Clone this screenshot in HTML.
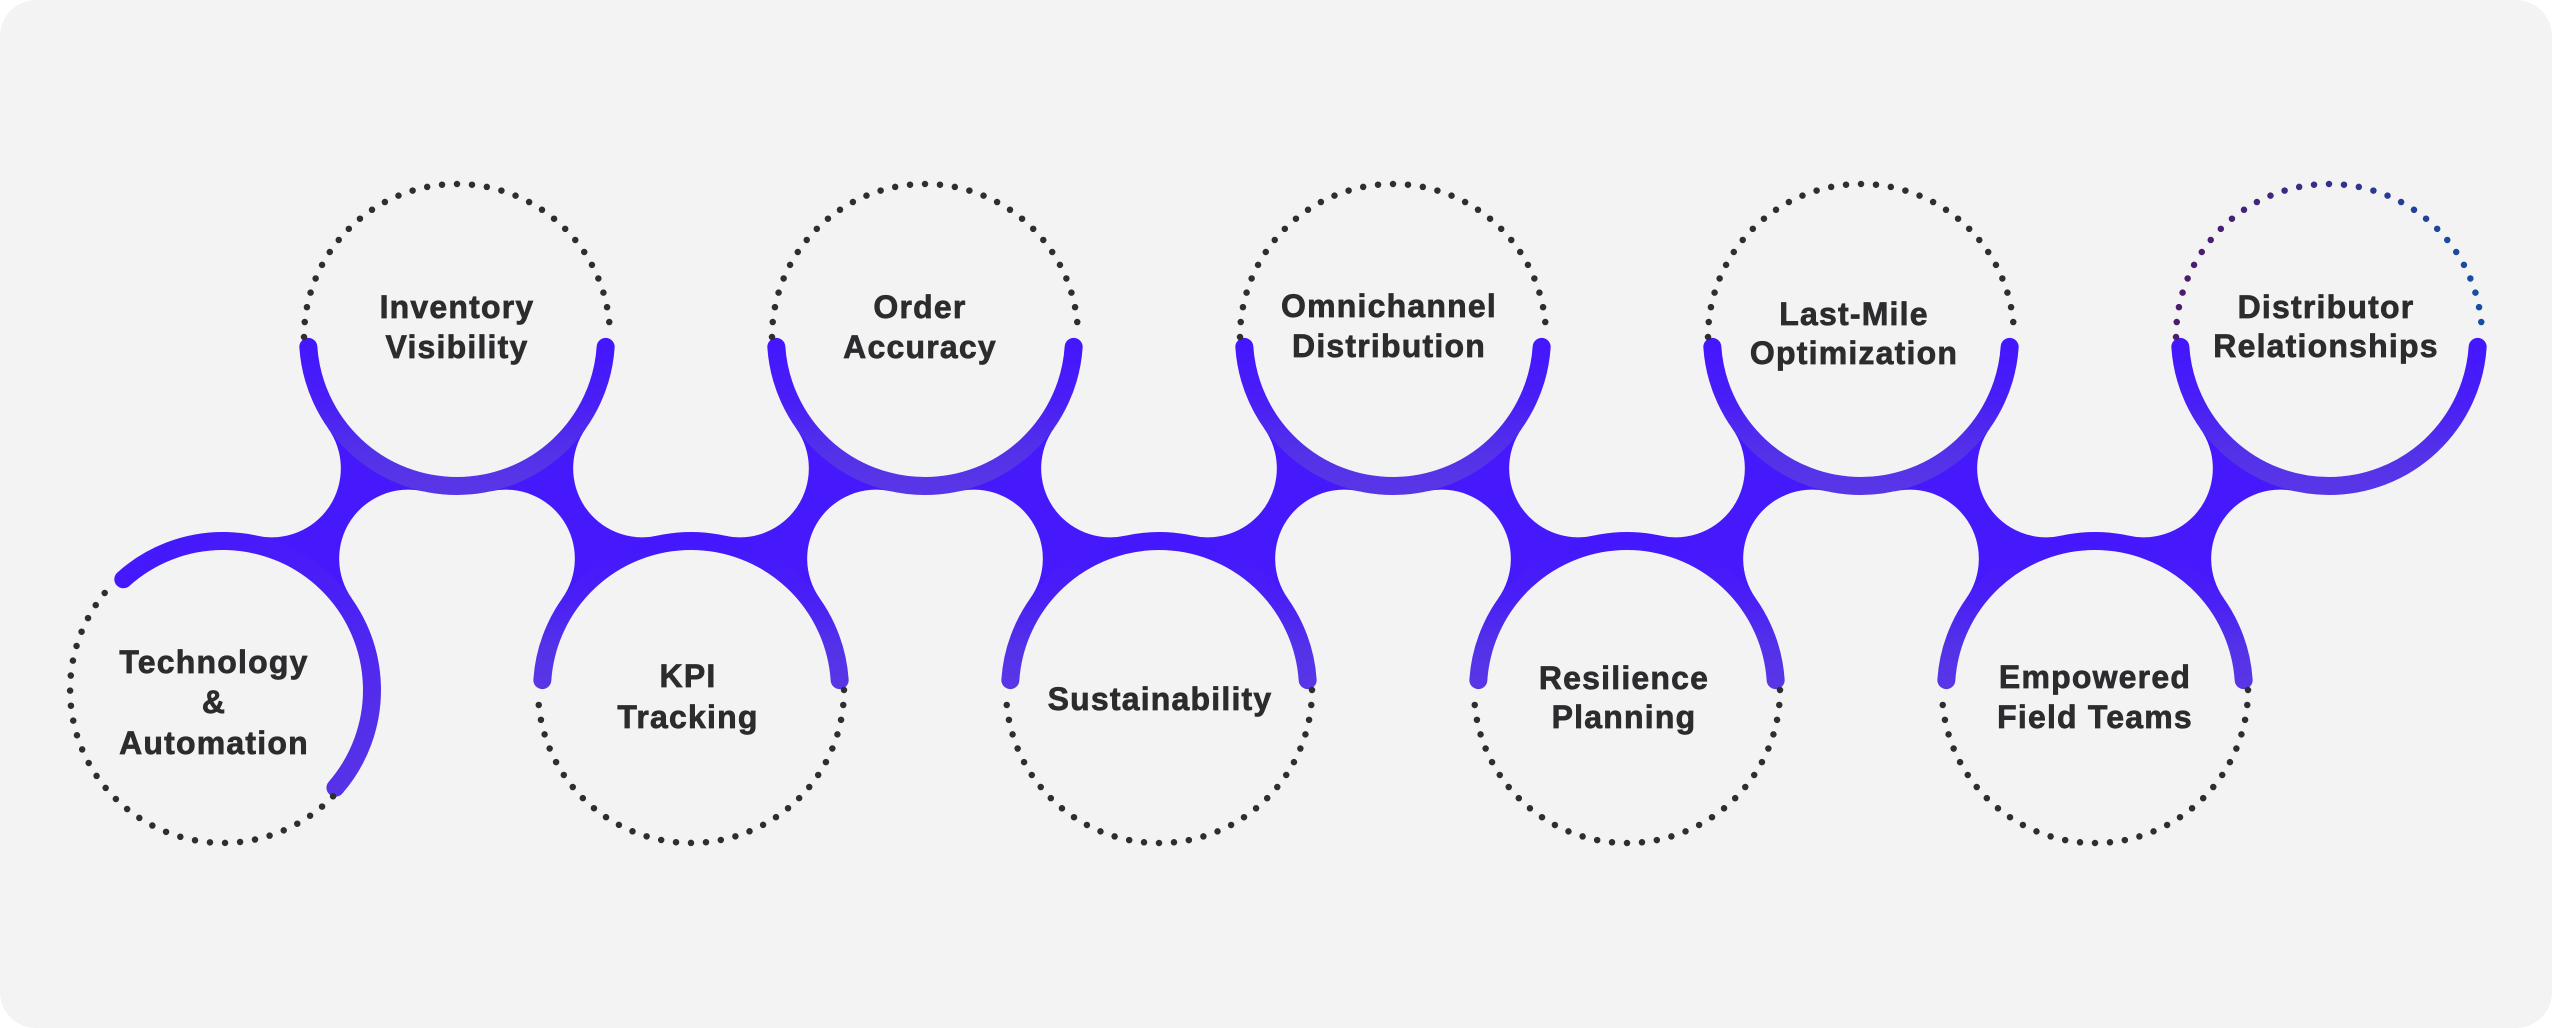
<!DOCTYPE html>
<html>
<head>
<meta charset="utf-8">
<style>
  html, body { margin: 0; padding: 0; background: #ffffff; }
  body { width: 2552px; height: 1028px; overflow: hidden; }
  svg { display: block; }
  .t { font-family: "Liberation Sans", Arial, sans-serif; font-weight: bold; font-size: 32px; letter-spacing: 1.2px; fill: #2c2c2e; stroke: #2c2c2e; stroke-width: 0.7px; text-anchor: middle; }
  .ring { fill: none; stroke-width: 18; stroke-linecap: round; }
  .dots { fill: none; stroke: #2e2e2e; stroke-width: 6.5; stroke-linecap: round; stroke-dasharray: 0 1; }
</style>
</head>
<body>
<svg width="2552" height="1028" viewBox="0 0 2552 1028" xmlns="http://www.w3.org/2000/svg">
  <defs>
    <linearGradient id="gr" x1="0" y1="0" x2="0" y2="1">
      <stop offset="0" stop-color="#4417FE"/>
      <stop offset="0.4" stop-color="#4A1EF6"/>
      <stop offset="0.75" stop-color="#5331E9"/>
      <stop offset="1" stop-color="#5835E6"/>
    </linearGradient>
    <linearGradient id="gt" x1="0" y1="0" x2="1" y2="1">
      <stop offset="0" stop-color="#4417FE"/>
      <stop offset="0.5" stop-color="#4A1EF6"/>
      <stop offset="1" stop-color="#5835E6"/>
    </linearGradient>
    <linearGradient id="dg" x1="0" y1="0" x2="1" y2="0">
      <stop offset="0" stop-color="#4E1A6A"/>
      <stop offset="0.5" stop-color="#33308A"/>
      <stop offset="1" stop-color="#154FA5"/>
    </linearGradient>
    <path id="jL" d="M -32.05 145.51 L -33.99 154.30 A 69 69 0 0 0 -105.12 261.60 L -112.46 266.80 A 149 149 0 0 0 -201.94 207.49 L -200.01 198.70 A 69 69 0 0 0 -128.88 91.40 L -121.54 86.19 A 149 149 0 0 0 -32.05 145.51 Z"/>
    <path id="jR" d="M 32.05 145.51 L 33.99 154.30 A 69 69 0 0 1 105.12 261.60 L 112.46 266.80 A 149 149 0 0 1 201.94 207.49 L 200.01 198.70 A 69 69 0 0 1 128.88 91.40 L 121.54 86.19 A 149 149 0 0 1 32.05 145.51 Z"/>
  </defs>

  <!-- background card -->
  <rect x="0" y="0" width="2552" height="1028" rx="36" ry="36" fill="#F3F3F3"/>

  <!-- junctions -->
  <g fill="#4619FC">
    <use href="#jL" transform="translate(457,337)"/>
    <use href="#jR" transform="translate(457,337)"/>
    <use href="#jL" transform="translate(925,337)"/>
    <use href="#jR" transform="translate(925,337)"/>
    <use href="#jL" transform="translate(1393,337)"/>
    <use href="#jR" transform="translate(1393,337)"/>
    <use href="#jL" transform="translate(1861,337)"/>
    <use href="#jR" transform="translate(1861,337)"/>
    <use href="#jL" transform="translate(2329,337)"/>
  </g>

  <!-- top rings (bottom arcs) -->
  <path class="ring" stroke="url(#gr)" d="M 308.33 346.88 A 149 149 0 0 0 605.67 346.88"/>
  <path class="ring" stroke="url(#gr)" d="M 776.33 346.88 A 149 149 0 0 0 1073.67 346.88"/>
  <path class="ring" stroke="url(#gr)" d="M 1244.33 346.88 A 149 149 0 0 0 1541.67 346.88"/>
  <path class="ring" stroke="url(#gr)" d="M 1712.33 346.88 A 149 149 0 0 0 2009.67 346.88"/>
  <path class="ring" stroke="url(#gr)" d="M 2180.33 346.88 A 149 149 0 0 0 2477.67 346.88"/>

  <!-- bottom rings (top arcs) -->
  <path class="ring" stroke="url(#gt)" d="M 123.30 579.27 A 149 149 0 0 1 335.45 787.75"/>
  <path class="ring" stroke="url(#gr)" d="M 542.33 680.12 A 149 149 0 0 1 839.67 680.12"/>
  <path class="ring" stroke="url(#gr)" d="M 1010.33 680.12 A 149 149 0 0 1 1307.67 680.12"/>
  <path class="ring" stroke="url(#gr)" d="M 1478.33 680.12 A 149 149 0 0 1 1775.67 680.12"/>
  <path class="ring" stroke="url(#gr)" d="M 1946.33 680.12 A 149 149 0 0 1 2243.67 680.12"/>

  <!-- dotted halves -->
  <path class="dots" pathLength="32" d="M 304 337 A 153 153 0 0 1 610 337"/>
  <path class="dots" pathLength="32" d="M 772 337 A 153 153 0 0 1 1078 337"/>
  <path class="dots" pathLength="32" d="M 1240 337 A 153 153 0 0 1 1546 337"/>
  <path class="dots" pathLength="32" d="M 1708 337 A 153 153 0 0 1 2014 337"/>
  <path class="dots" pathLength="32" style="stroke:url(#dg)" d="M 2176 337 A 153 153 0 0 1 2482 337"/>

  <path class="dots" pathLength="32" d="M 333.06 796.28 A 153 153 0 1 1 114.81 581.81"/>
  <path class="dots" pathLength="32" d="M 844 690 A 153 153 0 0 1 538 690"/>
  <path class="dots" pathLength="32" d="M 1312 690 A 153 153 0 0 1 1006 690"/>
  <path class="dots" pathLength="32" d="M 1780 690 A 153 153 0 0 1 1474 690"/>
  <path class="dots" pathLength="32" d="M 2248 690 A 153 153 0 0 1 1942 690"/>

  <!-- labels -->
  <text class="t" x="214" y="673">Technology</text>
  <text class="t" x="214" y="713">&amp;</text>
  <text class="t" x="214" y="754">Automation</text>

  <text class="t" x="457" y="318">Inventory</text>
  <text class="t" x="457" y="358">Visibility</text>

  <text class="t" x="688" y="687">KPI</text>
  <text class="t" x="688" y="728">Tracking</text>

  <text class="t" x="920" y="318">Order</text>
  <text class="t" x="920" y="358">Accuracy</text>

  <text class="t" x="1160" y="710">Sustainability</text>

  <text class="t" x="1389" y="317">Omnichannel</text>
  <text class="t" x="1389" y="357">Distribution</text>

  <text class="t" x="1624" y="689">Resilience</text>
  <text class="t" x="1624" y="728">Planning</text>

  <text class="t" x="1854" y="325">Last-Mile</text>
  <text class="t" x="1854" y="364">Optimization</text>

  <text class="t" x="2095" y="688">Empowered</text>
  <text class="t" x="2095" y="728">Field Teams</text>

  <text class="t" x="2326" y="318">Distributor</text>
  <text class="t" x="2326" y="357">Relationships</text>
</svg>
</body>
</html>
